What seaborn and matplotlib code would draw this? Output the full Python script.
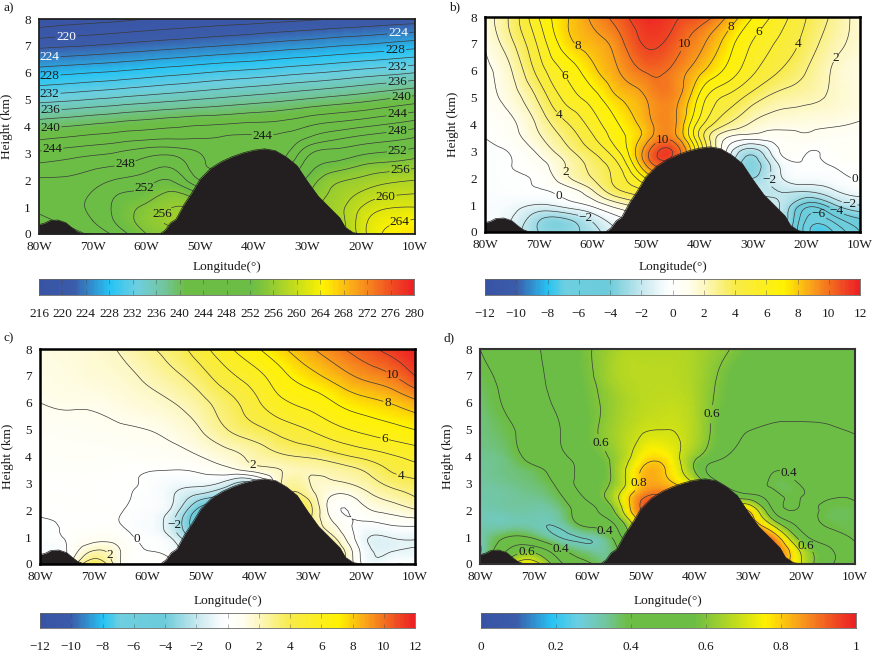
import numpy as np
import matplotlib
matplotlib.use("Agg")
import matplotlib.pyplot as plt
import matplotlib.tri as mtri
from matplotlib.colors import LinearSegmentedColormap
import seaborn as sns

sns.set_theme(style="ticks")
plt.rcParams["font.family"] = ["Liberation Serif", "DejaVu Serif"]

# grid of the cross sections
lons = [80, 75, 70, 65, 60, 55, 50, 45, 40, 35, 30, 25, 20, 15, 10]
heights = [8, 7, 6, 5, 4, 3.5, 3, 2.5, 2, 1.5, 1, 0.5, 0]

# panel a, temperature (K)
temp_rows = [
    [216.5, 217, 217.3, 217.6, 218, 218.3, 218.6, 218.9, 219.1, 219.4, 219.7, 220, 220.3, 220.6, 220.9],
    [221.5, 221.8, 222.1, 222.5, 222.9, 223.3, 223.7, 224.1, 224.5, 225, 225.4, 225.9, 226.3, 226.8, 227.3],
    [227.2, 227.6, 228, 228.4, 228.9, 229.4, 229.9, 230.4, 230.8, 231.3, 231.8, 232.3, 232.9, 233.4, 234],
    [233.2, 233.6, 234.1, 234.6, 235.1, 235.6, 236.1, 236.6, 237.1, 237.6, 238.2, 238.8, 239.4, 240.2, 241],
    [239.5, 240, 240.5, 241, 241.4, 241.8, 242.2, 242.5, 242.8, 243, 244, 245, 245.8, 246.6, 247.5],
    [242, 242.5, 243, 243.5, 244, 244.2, 244.2, 244.3, 244.3, 244.5, 246.5, 248, 249, 249.7, 250.5],
    [244.4, 245, 245.6, 246.3, 247.3, 247.5, 246, 244.5, 244.5, 245, 249.5, 250.8, 251.7, 252.3, 253],
    [246.6, 247, 247.7, 248.2, 249.2, 249.7, 246.5, 246, 246, 247, 251, 253, 254.3, 255, 255.7],
    [248.2, 248.3, 249, 250.3, 251.2, 251.8, 248, 248, 248, 249, 252.5, 255.5, 256.5, 257.5, 258],
    [248.6, 249, 250.2, 252, 252.8, 254.4, 252, 250, 250, 251, 254, 256.5, 258.3, 259.6, 260],
    [248.6, 249.3, 250.5, 252.7, 254.5, 256, 255, 252, 252, 252, 255, 257, 260, 261.8, 262],
    [247.2, 248.5, 250, 252.6, 255, 256.5, 256, 254, 253, 253, 255, 256.5, 261, 263.5, 264.2],
    [246, 247, 248.5, 251, 254, 255, 255, 254, 254, 254, 255, 256, 261, 264.5, 266],
]

# panel b anomaly
anom_b_rows = [
    [1.4, 3.3, 6, 7.8, 9.2, 10.5, 11.7, 11.2, 10.7, 9, 7, 5.5, 4, 2.8, 1.5],
    [1.1, 2.8, 5.2, 7.5, 8.5, 9.6, 11.1, 10.6, 9.3, 7.6, 5.9, 4.8, 3.6, 2.4, 1.6],
    [0.8, 2, 4.4, 6.2, 7.7, 9, 10.1, 9.8, 8.3, 6.8, 5.2, 4, 3, 1.9, 1.2],
    [0.6, 1.5, 3.2, 5.3, 6.5, 8, 9, 9.5, 6.8, 4.8, 3.5, 2.6, 2.3, 1.8, 1.3],
    [0.2, 0.8, 2.2, 3.8, 5.4, 7, 8.5, 9.3, 5.5, 3, 1.8, 1.3, 1.2, 1.1, 0.9],
    [0, 0.6, 1.8, 3.2, 4.8, 6.6, 8.5, 9.6, 5, 1, 0.3, 0.6, 0.8, 0.6, 0.5],
    [-0.2, 0.1, 1.2, 2.6, 4, 6, 9.5, 11, 6, 0, -2.5, 0, 0.05, 0.3, 0.5],
    [-0.3, 0, 0.6, 2, 3.3, 5, 9, 10, 5, -1, -3.5, -0.9, -0.1, 0.05, 0.2],
    [-0.3, -0.1, 0.2, 1.7, 3, 4.5, 7, 8, 4, -1, -3, -1.2, -0.5, -0.3, 0.05],
    [-0.3, -0.2, -0.1, 0.4, 1.8, 3.8, 5, 6, 3, 0, -2, -2, -2, -1.2, -0.6],
    [-0.4, -0.6, -1.1, -0.6, 0.2, 1.6, 3, 4, 2, 0, -2, -2, -4.5, -3.2, -2],
    [-0.5, -1, -2.8, -3, -1.7, -0.2, 1, 2, 1, 0, -2, -2, -6, -5.5, -4],
    [-1, -1.5, -3, -3.3, -2.5, -1, 0, 1, 1, 0, -1, -2, -6.5, -7, -5],
]

# panel c anomaly
anom_c_rows = [
    [1.3, 1.4, 1.6, 2.1, 2.8, 3.5, 4.6, 5.8, 6.8, 7.8, 8.8, 9.7, 10.5, 11.3, 12],
    [1.2, 1.3, 1.5, 1.7, 2.2, 2.8, 3.6, 4.7, 5.6, 6.7, 7.6, 8.4, 9.2, 9.8, 11],
    [1, 1.1, 1.1, 1.3, 1.6, 2, 2.7, 3.6, 4.7, 5.8, 6.3, 7, 7.6, 8, 8.7],
    [0.6, 0.7, 0.8, 0.9, 1, 1.3, 2, 3, 3.7, 4.4, 5, 5.7, 6.2, 6.6, 7],
    [0.3, 0.4, 0.4, 0.4, 0.5, 0.6, 1, 1.6, 2.3, 2.8, 3.1, 3.6, 4.2, 4.8, 5.3],
    [0.3, 0.3, 0.3, 0.2, 0.05, 0, 0.2, 0.7, 1.4, 2, 2.2, 2.5, 3, 4, 4.6],
    [0.2, 0.2, 0.2, 0.1, -0.1, -0.6, -0.7, -1.5, -2, 2, 2.1, 1.8, 2.3, 3.2, 3.7],
    [0.2, 0.2, 0.2, 0.1, -0.2, -1, -2.5, -3.5, -3, 2, 2.8, 0.8, 1.4, 2.3, 3],
    [0.1, 0.2, 0.2, 0.05, -0.3, -1.4, -4.5, -5, -3, 2, 3.5, 0.3, 0.6, 1.3, 1.9],
    [-0.1, 0.1, 0.2, 0, -0.4, -2, -5, -5, -3, 2, 3, 1, -0.2, 0.1, 0.3],
    [-0.2, 0.1, 0.6, 0.4, -0.2, -1.3, -4, -4, -2, 2, 3, 2, -0.6, -1, -0.9],
    [-0.3, 0, 2, 1, 0, -0.5, -2, -2, -1, 2, 3, 3, -0.2, -1.1, -0.9],
    [-0.3, 0.5, 4, 1, 0.2, 0, -1, -1, 0, 2, 3, 3.5, 0, -0.2, -0.2],
]

# panel d ratio
ratio_rows = [
    [0.4, 0.46, 0.49, 0.53, 0.59, 0.64, 0.66, 0.66, 0.65, 0.615, 0.57, 0.54, 0.53, 0.52, 0.52],
    [0.38, 0.42, 0.47, 0.54, 0.585, 0.65, 0.67, 0.67, 0.65, 0.59, 0.55, 0.53, 0.52, 0.52, 0.52],
    [0.36, 0.41, 0.46, 0.52, 0.575, 0.63, 0.67, 0.68, 0.655, 0.58, 0.55, 0.54, 0.53, 0.52, 0.52],
    [0.35, 0.385, 0.44, 0.5, 0.57, 0.64, 0.69, 0.7, 0.66, 0.56, 0.505, 0.48, 0.48, 0.49, 0.51],
    [0.34, 0.36, 0.43, 0.48, 0.55, 0.62, 0.75, 0.76, 0.62, 0.52, 0.42, 0.425, 0.43, 0.44, 0.45],
    [0.33, 0.35, 0.38, 0.45, 0.53, 0.62, 0.8, 0.79, 0.6, 0.42, 0.41, 0.403, 0.415, 0.43, 0.44],
    [0.33, 0.34, 0.36, 0.43, 0.55, 0.62, 0.81, 0.82, 0.7, 0.5, 0.44, 0.385, 0.405, 0.41, 0.41],
    [0.32, 0.33, 0.34, 0.39, 0.52, 0.66, 0.88, 0.9, 0.8, 0.6, 0.55, 0.43, 0.4, 0.403, 0.405],
    [0.31, 0.32, 0.32, 0.35, 0.47, 0.6, 0.9, 0.9, 0.8, 0.8, 0.8, 0.48, 0.41, 0.385, 0.385],
    [0.31, 0.31, 0.31, 0.32, 0.43, 0.5, 0.8, 0.9, 0.8, 0.8, 0.85, 0.65, 0.46, 0.39, 0.385],
    [0.31, 0.4, 0.385, 0.298, 0.31, 0.42, 0.7, 0.8, 0.8, 0.8, 0.9, 0.85, 0.55, 0.44, 0.39],
    [0.29, 0.5, 0.57, 0.42, 0.34, 0.37, 0.6, 0.7, 0.7, 0.7, 0.8, 0.9, 0.68, 0.52, 0.42],
    [0.36, 0.65, 0.75, 0.52, 0.42, 0.36, 0.5, 0.6, 0.6, 0.7, 0.8, 0.88, 0.7, 0.52, 0.44],
]

# terrain outline
terrain_lon = [80, 79, 78, 76.5, 75, 74, 73, 72, 70, 57.5, 56.5, 55.5, 54.5, 53, 51.5, 50, 48, 46, 44, 42, 40, 38,
               36, 34, 32, 30, 28, 26, 24, 23, 21.5, 20, 10]
terrain_h = [0.35, 0.4, 0.5, 0.52, 0.42, 0.25, 0.1, 0.02, 0, 0, 0.15, 0.42, 0.55, 1.1, 1.55, 2.05, 2.45, 2.7, 2.88,
             3.02, 3.12, 3.17, 3.1, 2.87, 2.55, 1.95, 1.4, 1.0, 0.6, 0.25, 0.05, 0, 0]

# contour labels (value, lon, height)
labels_a = [(220, 74.9, 7.27), (224, 78, 6.5), (228, 78, 5.85), (232, 78, 5.2), (236, 77.8, 4.57), (240, 77.8, 3.89),
            (244, 77.5, 3.12), (248, 64, 2.63), (252, 60.6, 1.81), (256, 57.9, 0.9), (244, 38.4, 3.43),
            (224, 13.1, 7.42), (228, 13.7, 6.81), (232, 13.3, 6.2), (236, 13.3, 5.63), (240, 12.6, 5.1),
            (244, 13.3, 4.47), (248, 13.3, 3.84), (252, 13.3, 3.2), (256, 12.8, 2.48), (260, 15.4, 1.31),
            (264, 12.8, 0.41)]
labels_b = [(8, 62.5, 6.96), (6, 65.5, 5.75), (4, 67.2, 4.15), (2, 65.2, 2.22), (0, 66.3, 1.35), (-2, 61.4, 0.43),
            (10, 42.9, 7), (10, 46.8, 3.37), (8, 34.3, 7.64), (6, 28.4, 7.36), (4, 22.3, 7.05), (2, 14.8, 6.5),
            (-2, 26.6, 1.94), (0, 11.1, 1.88), (-2, 12, 1.02), (-4, 14.2, 0.85), (-6, 18.2, 0.35)]
labels_c = [(2, 40.05, 3.78), (-2, 54.8, 1.45), (0, 62.4, 0.83), (2, 66.9, 0.36), (10, 13.7, 7.16), (8, 15.2, 5.98),
            (6, 15.6, 4.71), (4, 12.8, 3.21)]
labels_d = [(0.6, 57.6, 4.49), (0.6, 38, 5.61), (0.8, 50.1, 3.03), (0.4, 23.2, 3.23), (0.4, 57.6, 0.96),
            (0.4, 64.9, 0.58), (0.6, 71.3, 0.43), (0.6, 19.8, 0.52)]

ticks_temp = list(range(216, 281, 4))
ticks_anom = list(range(-12, 13, 2))
ticks_ratio = [0, 0.2, 0.4, 0.6, 0.8, 1]

# colormaps
blue = "#3953a4"
cyan = "#27c4f4"
sky = "#6dcfe0"
green = "#6cbd45"
yellow = "#fff200"
orange = "#f9a01b"
red = "#ed2024"
cmap_green = LinearSegmentedColormap.from_list("green_mid", [
    (0, blue), (0.09, "#3b5caa"), (0.1875, cyan), (0.26, sky), (0.33, "#72c59f"), (0.39, green),
    (0.57, green), (0.76, yellow), (0.85, orange), (0.95, "#ef4723"), (1, red)])
cmap_white = LinearSegmentedColormap.from_list("white_mid", [
    (0, blue), (0.08, "#3b5caa"), (0.167, cyan), (0.21, sky), (0.33, "#6dcbda"), (0.42, "#c8e9ef"),
    (0.48, "#f8fcfd"), (0.5, "#ffffff"), (0.54, "#fffef0"), (0.585, "#fdf7c0"), (0.667, "#f8eb4a"),
    (0.8, yellow), (0.875, orange), (0.96, "#ef4723"), (1, red)])


def letter(v):
    if isinstance(v, float) and not v.is_integer():
        return f"{v:g}"
    return str(int(v)).replace("-", "\u2212")


def add_panel(box, rows, cmap, vmin, vmax, levels, labels, edge, edge_w, xlabel_off):
    ax = fig.add_axes([box[0] / W, 1 - box[3] / H, (box[2] - box[0]) / W, (box[3] - box[1]) / H])
    xx, yy = np.meshgrid(lons, heights)
    tri = mtri.Triangulation(xx.ravel(), yy.ravel())
    fine, zfine = mtri.UniformTriRefiner(tri).refine_field(np.array(rows, dtype=float).ravel(), subdiv=3)
    ax.tripcolor(fine, zfine, shading="gouraud", cmap=cmap, vmin=vmin, vmax=vmax, rasterized=True)
    # one contour set per level, clabel needs that to pick the right line
    sets = {}
    for lev in levels:
        sets[lev] = ax.tricontour(fine, zfine, levels=[lev], colors="#3a3a3a", linewidths=0.5, linestyles="solid")
    ax.set_xlim(80, 10)
    ax.set_ylim(0, 8)
    for val, lon, h in labels:
        sets[val].clabel(manual=[(lon, h)], fmt=letter, fontsize=9.5, inline_spacing=1)
    for t in ax.texts:
        t.set_rotation(0)
        t.set_color("#1a1a1a")
    ax.fill_between(terrain_lon, terrain_h, 0, color="#231f20", lw=0, zorder=6)
    sns.lineplot(x=terrain_lon, y=terrain_h, ax=ax, color="#231f20", lw=0.5, sort=False, estimator=None, zorder=6)
    ax.set_xlim(80, 10)
    ax.set_ylim(0, 8)
    ax.set_xticks(range(80, 9, -10))
    ax.set_xticklabels([f"{v}W" for v in range(80, 9, -10)])
    ax.set_yticks(range(0, 9))
    ax.tick_params(length=0, labelsize=9.5, colors="#1a1a1a")
    ax.tick_params(axis="x", pad=5)
    ax.tick_params(axis="y", pad=6)
    ax.set_xlabel("Longitude(\u00b0)", fontsize=9.5, color="#1a1a1a")
    ax.set_ylabel("Height (km)", fontsize=9.5, color="#1a1a1a")
    ax.xaxis.set_label_coords(0.5, -xlabel_off / (box[3] - box[1]))
    ax.yaxis.set_label_coords(-26 / (box[2] - box[0]), 0.5)
    for s in ax.spines.values():
        s.set_visible(True)
        s.set_color(edge)
        s.set_linewidth(edge_w)
        s.set_zorder(8)
    return ax


def add_bar(box, cmap, ticks, tick_text):
    cax = fig.add_axes([box[0] / W, 1 - box[3] / H, (box[2] - box[0]) / W, (box[3] - box[1]) / H])
    lo, hi = ticks[0], ticks[-1]
    strip = np.linspace(lo, hi, 300)[None, :]
    sns.heatmap(strip, ax=cax, cmap=cmap, vmin=lo, vmax=hi, cbar=False, xticklabels=False, yticklabels=False)
    pos = [(t - lo) / (hi - lo) * 300 for t in ticks]
    cax.set_xticks(pos)
    cax.set_xticklabels(tick_text)
    cax.tick_params(axis="x", length=0, labelsize=9.5, pad=9, colors="#1a1a1a")
    cax.vlines(pos[1:-1], 0, 0.3, color="#444444", lw=0.4, alpha=0.7)
    cax.vlines(pos[1:-1], 0.7, 1, color="#444444", lw=0.4, alpha=0.7)
    for s in cax.spines.values():
        s.set_visible(True)
        s.set_color("#666666")
        s.set_linewidth(0.6)


W, H = 874, 651
fig = plt.figure(figsize=(W / 100, H / 100), dpi=100)

ax_a = add_panel((39, 19, 415, 234), temp_rows, cmap_green, 216, 280, list(range(218, 268, 2)), labels_a,
                 "#222222", 1.3, 27)
for t in ax_a.texts:
    if t.get_text() in ("220", "224"):
        t.set_color("white")
add_panel((485, 17, 860, 232), anom_b_rows, cmap_white, -12, 12, list(range(-7, 12)), labels_b, "black", 1.8, 29)
add_panel((40, 349, 415, 564), anom_c_rows, cmap_white, -12, 12, list(range(-6, 12)), labels_c, "black", 1.8, 31)
add_panel((480, 349, 855, 564), ratio_rows, cmap_green, 0, 1, [0.3, 0.4, 0.5, 0.6, 0.7, 0.8, 0.9], labels_d,
          "#333333", 1.5, 31)

add_bar((39, 279, 414, 295), cmap_green, ticks_temp, [str(v) for v in ticks_temp])
add_bar((485, 279, 860, 295), cmap_white, ticks_anom, [letter(v) for v in ticks_anom])
add_bar((40, 613, 415, 628), cmap_white, ticks_anom, [letter(v) for v in ticks_anom])
add_bar((481, 613, 856, 628), cmap_green, ticks_ratio, [f"{v:g}" for v in ticks_ratio])

for txt, px, py in [("a)", 4, 8), ("b)", 449, 7), ("c)", 4, 338), ("d)", 444, 338)]:
    fig.text(px / W, 1 - py / H, txt, fontsize=9.5, va="center", color="#1a1a1a")

fig.savefig("out.png", dpi=100)
